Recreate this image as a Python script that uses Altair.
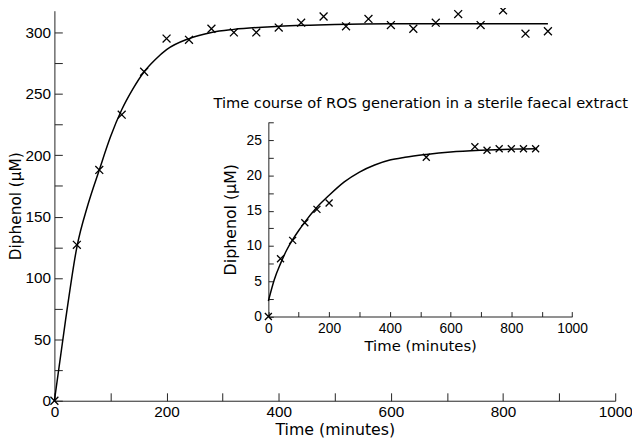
import altair as alt
import pandas as pd

# ---------------- data ----------------
# main panel: measured points
main_time = [0, 40, 80, 120, 160, 200, 240, 280, 320, 360, 400, 440,
             480, 520, 560, 600, 640, 680, 720, 760, 800, 840, 880]
main_diphenol = [0, 127, 188, 233, 268, 295, 294, 303, 300, 300, 304, 308,
                 313, 305, 311, 306, 303, 308, 315, 306, 318, 299, 301]
# main panel: fitted curve
main_fit_time = [0, 20, 40, 60, 80, 100, 120, 140, 160, 180, 200, 240, 280,
                 320, 400, 500, 600, 700, 800, 880]
main_fit_value = [0, 66, 125, 160, 188, 215, 237, 254, 268, 278, 286, 295,
                  300, 302.5, 305, 306.5, 307, 307, 307, 307]

# inset panel: measured points
inset_time = [0, 40, 80, 120, 160, 200, 520, 680, 720, 760, 800, 840, 880]
inset_diphenol = [0, 8.2, 10.8, 13.3, 15.2, 16.1, 22.6, 24.1, 23.6, 23.8,
                  23.8, 23.8, 23.8]
# inset panel: fitted curve
inset_fit_time = [0, 20, 40, 60, 80, 100, 120, 160, 200, 250, 300, 350, 400,
                  450, 520, 600, 700, 800, 885]
inset_fit_value = [2.2, 5.3, 7.5, 9.4, 10.9, 12.2, 13.4, 15.5, 17.2, 19.1,
                   20.5, 21.5, 22.2, 22.6, 23.0, 23.35, 23.6, 23.75, 23.8]

# axis tick values (labelled + minor)
main_x_ticks = [0, 100, 200, 300, 400, 500, 600, 700, 800, 900, 1000]
main_y_ticks = [0, 25, 50, 75, 100, 125, 150, 175, 200, 225, 250, 275, 300]
inset_x_ticks = [0, 100, 200, 300, 400, 500, 600, 700, 800, 900, 1000]
inset_y_ticks = [0, 2.5, 5, 7.5, 10, 12.5, 15, 17.5, 20, 22.5, 25, 27.5]
main_x_step, main_y_step = 200, 50          # labelled every ...
inset_x_step, inset_y_step = 200, 5

main_x_title = "Time (minutes)"
main_y_title = "Diphenol (\u00b5M)"
inset_x_title = "Time (minutes)"
inset_y_title = "Diphenol (\u00b5M)"
inset_title = "Time course of ROS generation in a sterile faecal extract"

# ---------------- layout / style ----------------
W, H = 568, 395
X_TOP = 1000
MAIN_Y_TOP = 317.7
IX0, IX1 = 216.7, 524.3      # inset x range inside the view (px)
IY0, IY1 = 309.7, 112.7      # inset y range inside the view (px)
INSET_Y_TOP = 27.6

AX = "#222222"
LABEL_FONT = "Liberation Sans"
TITLE_FONT = "DejaVu Sans"
CROSS = "M-1,-1L1,1M-1,1L1,-1"

main_pts = pd.DataFrame({"t": main_time, "v": main_diphenol})
main_fit = pd.DataFrame({"t": main_fit_time, "v": main_fit_value})
inset_pts = pd.DataFrame({"t": inset_time, "v": inset_diphenol})
inset_fit = pd.DataFrame({"t": inset_fit_time, "v": inset_fit_value})


def mx():
    return alt.Scale(domain=[0, X_TOP], range=[0, W], nice=False, zero=False)


def my():
    return alt.Scale(domain=[0, MAIN_Y_TOP], range=[H, 0], nice=False, zero=False)


def ix():
    return alt.Scale(domain=[0, X_TOP], range=[IX0, IX1], nice=False, zero=False)


def iy():
    return alt.Scale(domain=[0, INSET_Y_TOP], range=[IY0, IY1], nice=False, zero=False)


def label_axis(orient, values, step, title, offset, lsize, tsize, lpad, tpad, tick):
    # inward ticks: negative tick length given as an expression;
    # label padding compensates so labels sit just outside the axis line
    return alt.Axis(orient=orient, values=values, offset=offset,
                    ticks=True, tickSize={"expr": str(-tick)}, tickColor=AX,
                    tickWidth=1,
                    grid=False, domain=True, domainColor=AX, domainWidth=1,
                    format="d",
                    labelExpr="datum.value %% %s == 0 ? datum.label : ''" % step,
                    labelFont=LABEL_FONT, labelFontSize=lsize, labelColor="black",
                    labelPadding=lpad + tick, labelFlush=False, labelOverlap=False,
                    title=title, titleFont=TITLE_FONT, titleFontSize=tsize,
                    titleFontWeight="normal", titleColor="black", titlePadding=tpad)


MAIN_XA = label_axis("bottom", main_x_ticks, main_x_step, main_x_title, 0,
                     15.5, 16, 4, 2, 8)
MAIN_YA = label_axis("left", main_y_ticks, main_y_step, main_y_title, 0,
                     15.5, 15.5, 4, 1, 8)
INSET_XA = label_axis("bottom", inset_x_ticks, inset_x_step, inset_x_title, IY0 - H,
                      14, 15, 5, 3, 5)
INSET_YA = label_axis("left", inset_y_ticks, inset_y_step, inset_y_title, -IX0,
                      14, 16, 7, 8, 5)

# ---------------- main panel ----------------
main_line = alt.Chart(main_fit).mark_line(
    color="black", strokeWidth=1.5, interpolate="monotone"
).encode(
    x=alt.X("t:Q", scale=mx(), axis=MAIN_XA),
    y=alt.Y("v:Q", scale=my(), axis=MAIN_YA),
)
main_marks = alt.Chart(main_pts).mark_point(
    shape=CROSS, size=64, filled=False, color="black", strokeWidth=1.3, opacity=1
).encode(
    x=alt.X("t:Q", scale=mx(), axis=MAIN_XA),
    y=alt.Y("v:Q", scale=my(), axis=MAIN_YA),
)
main_panel = alt.layer(main_line, main_marks)

# ---------------- inset panel ----------------
inset_line = alt.Chart(inset_fit).mark_line(
    color="black", strokeWidth=1.5, interpolate="monotone"
).encode(
    x=alt.X("t:Q", scale=ix(), axis=INSET_XA),
    y=alt.Y("v:Q", scale=iy(), axis=INSET_YA),
)
inset_marks = alt.Chart(inset_pts).mark_point(
    shape=CROSS, size=50, filled=False, color="black", strokeWidth=1.3, opacity=1
).encode(
    x=alt.X("t:Q", scale=ix(), axis=INSET_XA),
    y=alt.Y("v:Q", scale=iy(), axis=INSET_YA),
)
inset_panel = alt.layer(inset_line, inset_marks)

inset_heading = alt.Chart(inset_pts).mark_point(opacity=0).encode(
    x=alt.X("t:Q", scale=ix(),
            axis=alt.Axis(orient="top", offset=-IY1, labels=False, ticks=False,
                          domain=False, grid=False, title=inset_title,
                          titleFont=TITLE_FONT, titleFontSize=14.8,
                          titleFontWeight="normal", titleColor="black",
                          titlePadding=12)),
    y=alt.Y("v:Q", scale=iy(), axis=None),
)

chart = alt.layer(
    main_panel, inset_panel, inset_heading,
).resolve_scale(
    x="independent", y="independent"
).properties(
    width=W, height=H,
    padding={"left": 47, "top": 0, "right": 17, "bottom": 36},
    autosize=alt.AutoSizeParams(type="none"),
).configure_view(
    stroke=None
)

chart.save("out.html", embed_options={"renderer": "svg", "actions": False})
